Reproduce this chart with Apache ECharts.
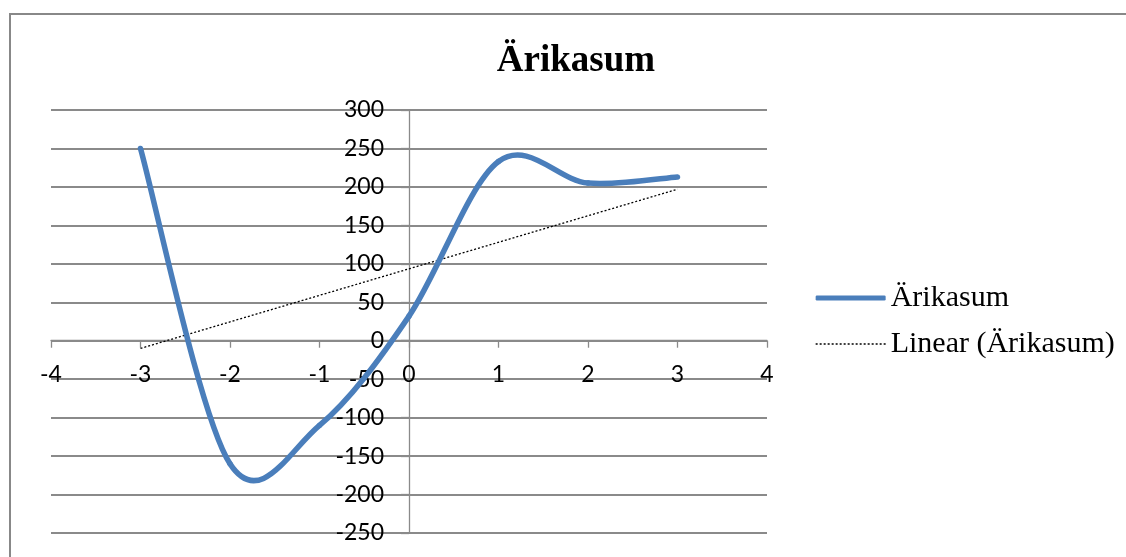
<!DOCTYPE html>
<html>
<head>
<meta charset="utf-8">
<script src="https://cdn.jsdelivr.net/npm/echarts@6/dist/echarts.min.js"></script>
<style>
  html, body { margin: 0; padding: 0; background: #fff; }
  #chart { width: 1126px; height: 557px; }
</style>
</head>
<body>
<div id="chart"></div>
<script>
// Profit curve (smoothed) with its linear trend
const chartTitle = 'Ärikasum';
const seriesName = 'Ärikasum';
const trendName = 'Linear (Ärikasum)';

const xValues = [-3, -2, -1, 0, 1, 2, 3];
const profit = [250, -160, -110, 32, 233, 205, 213];

// Linear trend end points
const trendX = [-3, 3];
const trendY = [-10, 197];

const xRange = [-4, 4];
const yRange = [-250, 300];

const gridColor = '#8a8a8a';
const curveColor = '#4a7ebb';
const labelFont = 'Lato, "Open Sans", sans-serif';
const serifFont = '"Liberation Serif", "Times New Roman", serif';

// plot area
const grid = { left: 51, top: 110, width: 716, height: 423 };
// the axes cross at zero, so shift them into the plot area
const xAxisOffset = -(grid.height * (0 - yRange[0]) / (yRange[1] - yRange[0]));
const yAxisOffset = -(grid.width * (0 - xRange[0]) / (xRange[1] - xRange[0]));

// Smooth curve: cubic Bezier segments whose control points use the
// neighbouring points (Catmull-Rom style, 1/6 tension)
function renderCurveSegment(params, api) {
  const n = xValues.length;
  const i = params.dataIndex;
  if (i >= n - 1) return null;
  const pt = j => {
    const k = Math.max(0, Math.min(n - 1, j));
    return api.coord([xValues[k], profit[k]]);
  };
  const p0 = pt(i - 1), p1 = pt(i), p2 = pt(i + 1), p3 = pt(i + 2);
  const t = 1 / 6;
  return {
    type: 'bezierCurve',
    shape: {
      x1: p1[0], y1: p1[1],
      x2: p2[0], y2: p2[1],
      cpx1: p1[0] + (p2[0] - p0[0]) * t,
      cpy1: p1[1] + (p2[1] - p0[1]) * t,
      cpx2: p2[0] - (p3[0] - p1[0]) * t,
      cpy2: p2[1] - (p3[1] - p1[1]) * t
    },
    style: { stroke: curveColor, lineWidth: 5.5, fill: 'none', lineCap: 'round', lineJoin: 'round' },
    silent: true
  };
}

const chart = echarts.init(document.getElementById('chart'), null, { renderer: 'canvas' });

chart.setOption({
  animation: false,
  backgroundColor: '#fff',
  title: {
    text: chartTitle,
    left: 571,
    textAlign: 'center',
    top: 38,
    textStyle: { fontFamily: serifFont, fontWeight: 'bold', fontSize: 37, color: '#000' }
  },
  graphic: [{
    type: 'rect',
    shape: { x: 10, y: 14, width: 1130, height: 560 },
    style: { fill: 'none', stroke: '#888', lineWidth: 2 },
    silent: true
  }],
  legend: {
    orient: 'vertical',
    left: 815,
    top: 283,
    padding: 0,
    itemWidth: 70,
    itemHeight: 5,
    itemGap: 16,
    lineStyle: { width: 'inherit' },
    textStyle: { fontFamily: serifFont, fontSize: 30, color: '#000' },
    data: [
      { name: seriesName, icon: 'roundRect' },
      { name: trendName, itemStyle: { opacity: 0 } }
    ]
  },
  grid: {
    left: grid.left, top: grid.top, width: grid.width, height: grid.height,
    containLabel: false, outerBoundsMode: 'none'
  },
  xAxis: {
    type: 'value',
    position: 'bottom',
    offset: xAxisOffset,
    min: xRange[0], max: xRange[1], interval: 1,
    axisLine: { show: true, onZero: false, lineStyle: { color: gridColor, width: 1.3 } },
    axisTick: { show: true, length: 7, lineStyle: { color: gridColor, width: 1.3 } },
    axisLabel: { margin: 22, fontFamily: labelFont, fontSize: 23, color: '#000' },
    splitLine: { show: false }
  },
  yAxis: {
    type: 'value',
    position: 'left',
    offset: yAxisOffset,
    min: yRange[0], max: yRange[1], interval: 50,
    axisLine: { show: true, onZero: false, lineStyle: { color: gridColor, width: 1.3 } },
    axisTick: { show: true, length: 8, lineStyle: { color: gridColor, width: 1.3 } },
    axisLabel: { margin: 25, fontFamily: labelFont, fontSize: 23, color: '#000' },
    splitLine: { show: true, lineStyle: { color: gridColor, width: 2 } }
  },
  series: [
    {
      name: seriesName,
      type: 'custom',
      data: xValues.map((x, i) => [x, profit[i]]),
      encode: { x: 0, y: 1 },
      renderItem: renderCurveSegment,
      itemStyle: { color: curveColor },
      z: 3
    },
    {
      name: trendName,
      type: 'line',
      data: trendX.map((x, i) => [x, trendY[i]]),
      symbol: 'none',
      lineStyle: { color: '#000', width: 1.3, type: [2, 2] },
      itemStyle: { color: '#000' },
      z: 2
    }
  ]
});
</script>
</body>
</html>
